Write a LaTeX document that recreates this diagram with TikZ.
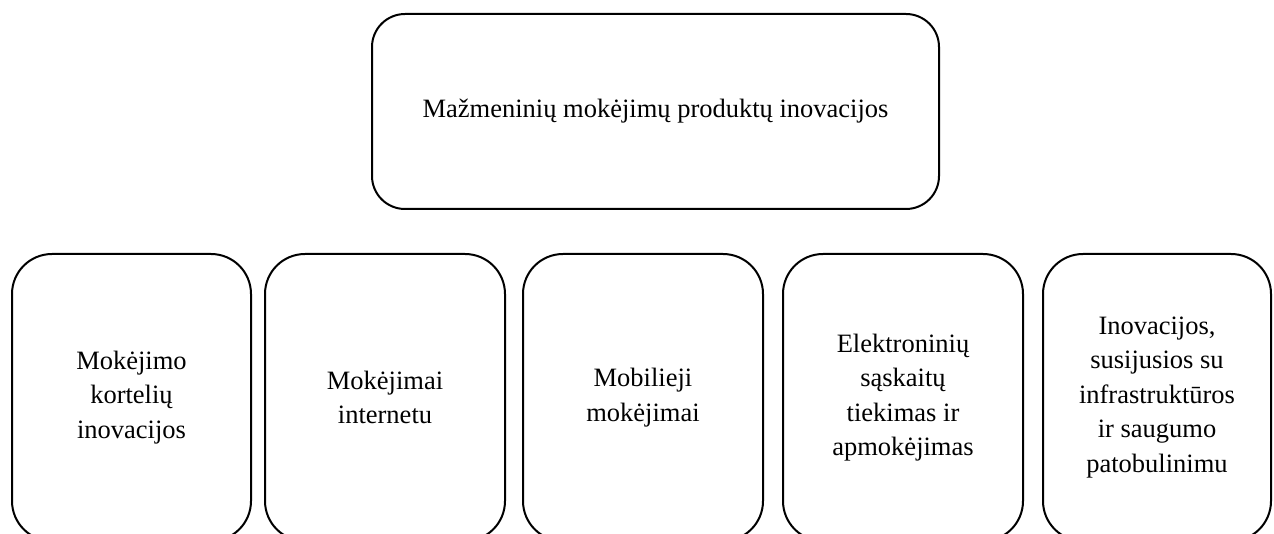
\documentclass[tikz,border=0pt]{standalone}
\usepackage{fontspec}
\setmainfont{Liberation Serif}
\begin{document}
\begin{tikzpicture}[x=1pt,y=-1pt,
  box/.style={draw=black, line width=2pt, align=center, inner sep=0pt,
    font=\fontsize{26.5}{34.5}\selectfont},
  headbox/.style={box, rounded corners=33pt, minimum width=567pt, minimum height=195pt},
  leafbox/.style={box, rounded corners=40pt, minimum height=287pt}]
\useasboundingbox (0,0) rectangle (1274,534);
\clip (0,0) rectangle (1274,534);

\node[headbox] (root) at (655.5,111.5) {Mažmeninių mokėjimų produktų inovacijos};

\node[leafbox, minimum width=239pt] (cards)  at (131.5,397.5) {Mokėjimo\\kortelių\\inovacijos};
\node[leafbox, minimum width=240pt] (web)    at (385,397.5)   {Mokėjimai\\internetu};
\node[leafbox, minimum width=240pt] (mobile) at (643,397.5)   {Mobilieji\\mokėjimai};
\node[leafbox, minimum width=240pt] (bills)  at (903,397.5)   {Elektroninių\\sąskaitų\\tiekimas ir\\apmokėjimas};
\node[leafbox, minimum width=228pt] (infra)  at (1157,397.5)  {Inovacijos,\\susijusios su\\infrastruktūros\\ir saugumo\\patobulinimu};
\end{tikzpicture}
\end{document}
